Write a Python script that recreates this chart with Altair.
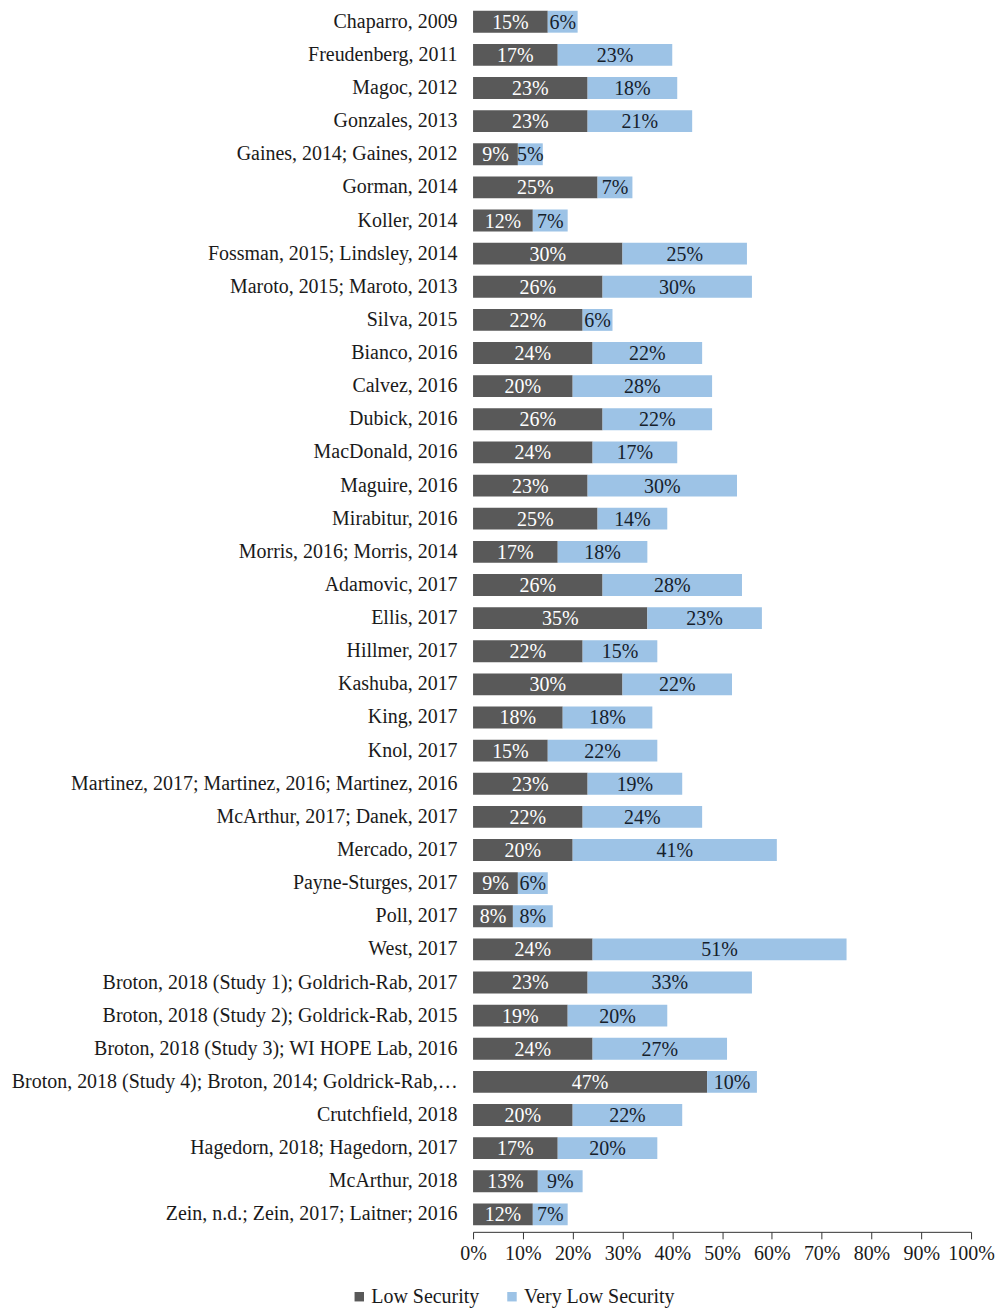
import altair as alt
import pandas as pd

studies = [
    "Chaparro, 2009", "Freudenberg, 2011", "Magoc, 2012", "Gonzales, 2013",
    "Gaines, 2014; Gaines, 2012", "Gorman, 2014", "Koller, 2014",
    "Fossman, 2015; Lindsley, 2014", "Maroto, 2015; Maroto, 2013", "Silva, 2015",
    "Bianco, 2016", "Calvez, 2016", "Dubick, 2016", "MacDonald, 2016",
    "Maguire, 2016", "Mirabitur, 2016", "Morris, 2016; Morris, 2014",
    "Adamovic, 2017", "Ellis, 2017", "Hillmer, 2017", "Kashuba, 2017",
    "King, 2017", "Knol, 2017", "Martinez, 2017; Martinez, 2016; Martinez, 2016",
    "McArthur, 2017; Danek, 2017", "Mercado, 2017", "Payne-Sturges, 2017",
    "Poll, 2017", "West, 2017", "Broton, 2018 (Study 1); Goldrich-Rab, 2017",
    "Broton, 2018 (Study 2); Goldrick-Rab, 2015",
    "Broton, 2018 (Study 3); WI HOPE Lab, 2016",
    "Broton, 2018 (Study 4); Broton, 2014; Goldrick-Rab,\u2026",
    "Crutchfield, 2018", "Hagedorn, 2018; Hagedorn, 2017", "McArthur, 2018",
    "Zein, n.d.; Zein, 2017; Laitner; 2016",
]
low_security = [15, 17, 23, 23, 9, 25, 12, 30, 26, 22, 24, 20, 26, 24, 23, 25, 17, 26, 35,
                22, 30, 18, 15, 23, 22, 20, 9, 8, 24, 23, 19, 24, 47, 20, 17, 13, 12]
very_low_security = [6, 23, 18, 21, 5, 7, 7, 25, 30, 6, 22, 28, 22, 17, 30, 14, 18, 28, 23,
                     15, 22, 18, 22, 19, 24, 41, 6, 8, 51, 33, 20, 27, 10, 22, 20, 9, 7]
series_names = ["Low Security", "Very Low Security"]
x_ticks = [0, 0.1, 0.2, 0.3, 0.4, 0.5, 0.6, 0.7, 0.8, 0.9, 1.0]

rows = []
for s, lo, vl in zip(studies, low_security, very_low_security):
    a, b = lo / 100, vl / 100
    rows.append({"study": s, "series": series_names[0], "value": a,
                 "start": 0.0, "end": a, "mid": a / 2})
    rows.append({"study": s, "series": series_names[1], "value": b,
                 "start": a, "end": a + b, "mid": a + b / 2})
df = pd.DataFrame(rows)

FONT = "Liberation Serif"
FS = 20

y = alt.Y("study:N", sort=studies, title=None,
          scale=alt.Scale(paddingInner=0.34, paddingOuter=0.045),
          axis=alt.Axis(domain=False, ticks=False, labelPadding=16, labelFont=FONT,
                        labelFontSize=FS, labelColor="#1a1a1a", labelLimit=480))

bars = alt.Chart(df).mark_bar().encode(
    x=alt.X("start:Q", title=None,
            scale=alt.Scale(domain=[0, 1], nice=False),
            axis=alt.Axis(values=x_ticks, format=".0%", grid=False, domainColor="#333333",
                          tickColor="#333333", tickSize=7, labelPadding=5, offset=5,
                          labelFont=FONT, labelFontSize=FS, labelColor="#1a1a1a",
                          labelFlush=False)),
    x2="end:Q",
    y=y,
    color=alt.Color("series:N", sort=series_names,
                    scale=alt.Scale(domain=series_names, range=["#595959", "#9DC3E6"]),
                    legend=alt.Legend(title=None, orient="none", legendX=-124, legendY=1280,
                                      direction="horizontal", symbolType="square",
                                      symbolSize=90, symbolStrokeWidth=0,
                                      labelFont=FONT, labelFontSize=FS, labelColor="#1a1a1a",
                                      columnPadding=22, labelOffset=2)),
)

text_low = alt.Chart(df).transform_filter(
    alt.datum.series == series_names[0]
).mark_text(font=FONT, fontSize=FS, color="white", baseline="middle", dy=1).encode(
    x="mid:Q", y=y, text=alt.Text("value:Q", format=".0%"))

text_vl = alt.Chart(df).transform_filter(
    alt.datum.series == series_names[1]
).mark_text(font=FONT, fontSize=FS, color="#15202b", baseline="middle", dy=1).encode(
    x="mid:Q", y=y, text=alt.Text("value:Q", format=".0%"))

chart = alt.layer(bars, text_low, text_vl).properties(
    width=499, height=1220,
    background="white",
    autosize=alt.AutoSizeParams(type="none"),
    padding={"left": 466, "top": 0, "right": 24, "bottom": 80},
).configure_view(stroke="transparent", strokeWidth=0)

chart.save("out.html", embed_options={"renderer": "svg", "actions": False})
